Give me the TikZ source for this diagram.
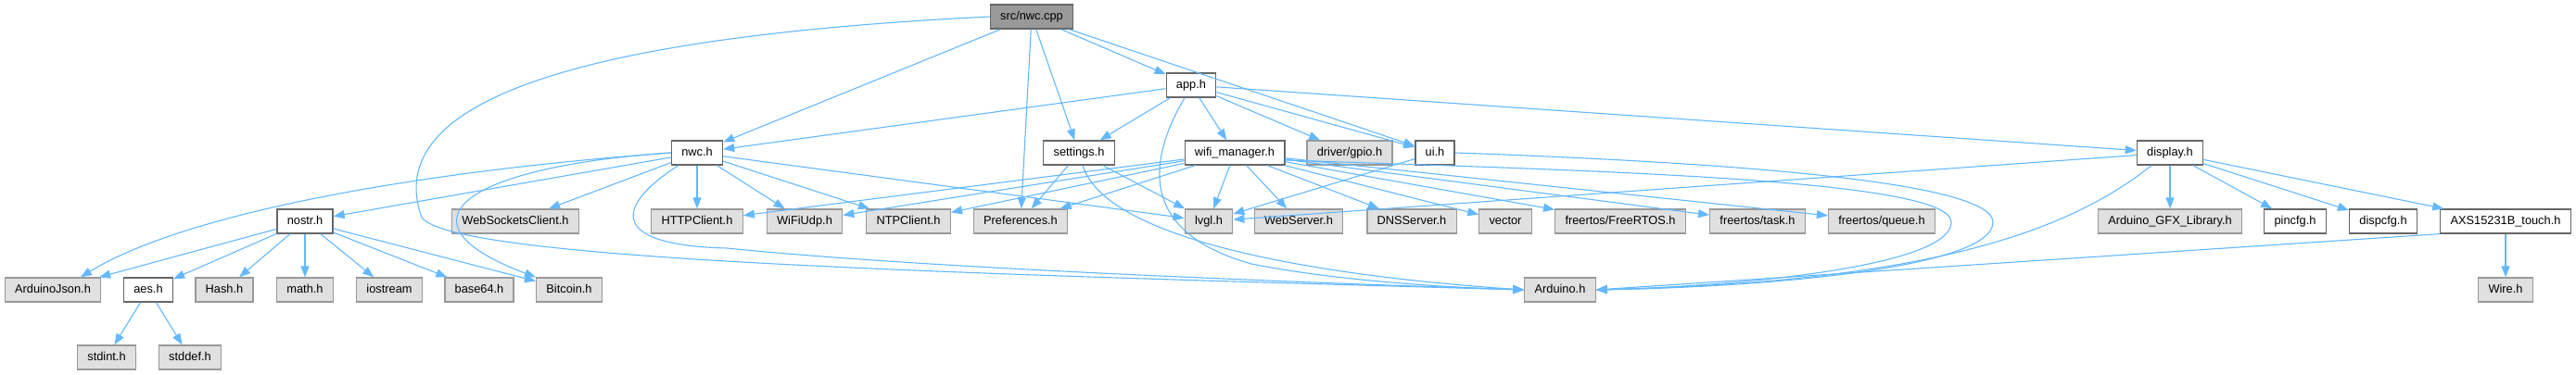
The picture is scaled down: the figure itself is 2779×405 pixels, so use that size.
\documentclass[tikz,border=0pt]{standalone}
\usepackage{fontspec}
\setmainfont{Liberation Sans}
\usetikzlibrary{arrows.meta}
\definecolor{DoxEdge}{HTML}{63B8FF}
\definecolor{DoxRoot}{HTML}{999999}
\definecolor{DoxExt}{HTML}{E0E0E0}
\definecolor{DoxLine}{HTML}{666666}
\definecolor{DoxExtLine}{HTML}{999999}

\begin{document}
\begin{tikzpicture}[
    x=0.5pt,y=-0.5pt,
    base/.style={rectangle,minimum height=13pt,inner xsep=5.4pt,inner ysep=0pt,text height=4.7pt,text depth=1.3pt,line width=0.65pt,font=\fontsize{6.4}{7.5}\selectfont},
    root/.style={base,draw=DoxLine,fill=DoxRoot},
    hdr/.style={base,draw=DoxLine,fill=white},
    ext/.style={base,draw=DoxExtLine,fill=DoxExt},
    inc/.style={-{Triangle[length=6pt,width=4.5pt]},line width=0.55pt,draw=DoxEdge}
  ]
    \useasboundingbox (0,0) rectangle (2779,405);
    \node[root] (cpp) at (1113,18) {src/nwc.cpp};
    \node[hdr] (app) at (1285,92) {app.h};
    \node[hdr] (nwch) at (752,165) {nwc.h};
    \node[hdr] (settings) at (1164,165) {settings.h};
    \node[hdr] (wifi) at (1332,165) {wifi\_manager.h};
    \node[ext] (gpio) at (1456,165) {driver/gpio.h};
    \node[hdr] (ui) at (1548,165) {ui.h};
    \node[hdr] (display) at (2341,165) {display.h};
    \node[hdr] (nostr) at (329,239) {nostr.h};
    \node[ext] (websock) at (556,239) {WebSocketsClient.h};
    \node[ext] (http) at (752,239) {HTTPClient.h};
    \node[ext] (udp) at (868,239) {WiFiUdp.h};
    \node[ext] (ntp) at (980,239) {NTPClient.h};
    \node[ext] (pref) at (1101,239) {Preferences.h};
    \node[ext] (lvgl) at (1304,239) {lvgl.h};
    \node[ext] (webserver) at (1401,239) {WebServer.h};
    \node[ext] (dns) at (1523,239) {DNSServer.h};
    \node[ext] (vector) at (1624,239) {vector};
    \node[ext] (rtos) at (1748,239) {freertos/FreeRTOS.h};
    \node[ext] (task) at (1896,239) {freertos/task.h};
    \node[ext] (queue) at (2030,239) {freertos/queue.h};
    \node[ext] (gfx) at (2341,239) {Arduino\_GFX\_Library.h};
    \node[hdr] (pincfg) at (2476,239) {pincfg.h};
    \node[hdr] (dispcfg) at (2571,239) {dispcfg.h};
    \node[hdr] (touch) at (2703,239) {AXS15231B\_touch.h};
    \node[ext] (json) at (57,313) {ArduinoJson.h};
    \node[hdr] (aes) at (160,313) {aes.h};
    \node[ext] (hash) at (242,313) {Hash.h};
    \node[ext] (math) at (329,313) {math.h};
    \node[ext] (iostream) at (420,313) {iostream};
    \node[ext] (base64) at (517,313) {base64.h};
    \node[ext] (bitcoin) at (614,313) {Bitcoin.h};
    \node[ext] (arduino) at (1683,313) {Arduino.h};
    \node[ext] (wire) at (2703,313) {Wire.h};
    \node[ext] (stdint) at (115,386) {stdint.h};
    \node[ext] (stddef) at (205,386) {stddef.h};

    \draw[inc] (cpp) -- (nwch);
    \draw[inc] (cpp.west) .. controls (620,40) and (410,110) .. (455,235) .. controls (490,280) and (1000,295) .. (arduino.west);
    \draw[inc] (cpp) -- (app);
    \draw[inc] (cpp) -- (settings);
    \draw[inc] (cpp) -- (pref);
    \draw[inc] (cpp) -- (ui);

    \draw[inc] (app) -- (nwch);
    \draw[inc] (app) -- (settings);
    \draw[inc] ([xshift=-3.5pt]app.south) .. controls (1240,170) and (1225,250) .. (1350,285) .. controls (1450,305) and (1580,311) .. (arduino.west);
    \draw[inc] (app) -- (wifi);
    \draw[inc] (app) -- (gpio);
    \draw[inc] (app) -- (ui);
    \draw[inc] (app) -- (display);

    \draw[inc] (nwch.west) .. controls (450,185) and (200,230) .. ([xshift=15pt]json.north);
    \draw[inc] (nwch) -- (nostr);
    \draw[inc] (nwch.west) .. controls (500,180) and (420,240) .. (bitcoin.north west);
    \draw[inc] (nwch) -- (websock);
    \draw[inc] (nwch) -- (http);
    \draw[inc] (nwch) -- (udp);
    \draw[inc] (nwch) -- (ntp);
    \draw[inc] (nwch) -- (lvgl);
    \draw[inc] ([xshift=4pt]nwch.south west) .. controls (660,225) and (660,265) .. (784,268) .. controls (1000,290) and (1400,305) .. (arduino.west);

    \draw[inc] (nostr) -- (json);
    \draw[inc] (nostr) -- (aes);
    \draw[inc] (nostr) -- (hash);
    \draw[inc] (nostr) -- (math);
    \draw[inc] (nostr) -- (iostream);
    \draw[inc] (nostr) -- (base64);
    \draw[inc] (nostr) -- (bitcoin);
    \draw[inc] (aes) -- (stdint);
    \draw[inc] (aes) -- (stddef);

    \draw[inc] (settings) -- (pref);
    \draw[inc] (settings) -- (lvgl);
    \draw[inc] ([xshift=2pt]settings.south) .. controls (1195,265) and (1450,300) .. (arduino.west);

    \draw[inc] (wifi) -- (http);
    \draw[inc] (wifi) -- (udp);
    \draw[inc] (wifi) -- (ntp);
    \draw[inc] (wifi) -- (pref);
    \draw[inc] (wifi) -- (lvgl);
    \draw[inc] (wifi) -- (webserver);
    \draw[inc] (wifi) -- (dns);
    \draw[inc] (wifi) -- (vector);
    \draw[inc] (wifi) -- (rtos);
    \draw[inc] (wifi) -- (task);
    \draw[inc] (wifi) -- (queue);
    \draw[inc] ([yshift=-4pt]wifi.east) .. controls (1750,185) and (2105,195) .. (2105,240) .. controls (2105,285) and (1900,308) .. (arduino.east);

    \draw[inc] (ui) -- (lvgl);
    \draw[inc] (ui.east) .. controls (1850,175) and (2150,195) .. (2150,240) .. controls (2150,290) and (1900,310) .. (arduino.east);

    \draw[inc] (display) -- (lvgl);
    \draw[inc] (display) -- (gfx);
    \draw[inc] (display) -- (pincfg);
    \draw[inc] (display) -- (dispcfg);
    \draw[inc] (display) -- (touch);
    \draw[inc] ([xshift=-10pt]display.south) .. controls (2220,260) and (2050,305) .. (arduino.east);

    \draw[inc] (touch.south west) -- (arduino.east);
    \draw[inc] (touch) -- (wire);
\end{tikzpicture}
\end{document}
